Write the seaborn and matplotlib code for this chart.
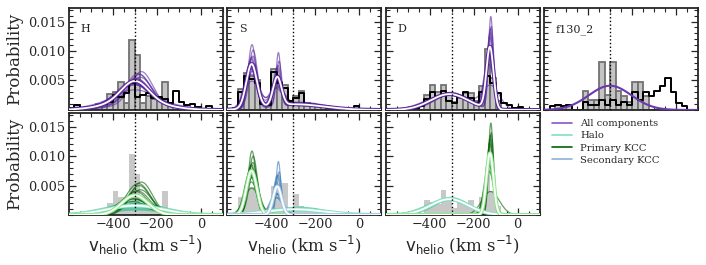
import numpy as np
import pandas as pd
import matplotlib
matplotlib.use('Agg')
import matplotlib.pyplot as plt
import matplotlib.patheffects as pe
from matplotlib.ticker import FixedLocator, MultipleLocator
from matplotlib.lines import Line2D
import seaborn as sns

# velocity bins (km/s) shared by every histogram
bin_width = 25
bin_range = (-600, 100)
bin_centers = np.arange(-600, 100, bin_width) + bin_width / 2
v_sys = -300

fields = ['H', 'S', 'D', 'f130_2']

# top row: grey (with edges) and black step histograms
H_gray = [0, 0.0008, 0, 0.0005, 0.0005, 0.001, 0.0012, 0.0027, 0.003, 0.0047, 0.0012, 0.0118, 0.0094, 0.0012,
          0.0024, 0.0018, 0.0018, 0.0047, 0.0012, 0, 0, 0, 0, 0, 0, 0, 0, 0]
H_black = [0.0003, 0.0008, 0.0003, 0.0005, 0.0005, 0.0008, 0.001, 0.0014, 0.0025, 0.0022, 0.0028, 0.0045, 0.0022,
           0.0026, 0.0028, 0.002, 0.0022, 0.0018, 0.0012, 0.0032, 0.0014, 0.0008, 0.001, 0.0005, 0, 0.0006, 0, 0]
S_gray = [0, 0.0003, 0.0035, 0.0062, 0.0058, 0.005, 0.0012, 0.0008, 0.007, 0.0048, 0.0042, 0.0015, 0.0024, 0.0032,
          0.0012, 0.001, 0.0008, 0.0005, 0.0004, 0, 0, 0, 0, 0, 0, 0, 0, 0]
S_black = [0, 0.0003, 0.003, 0.0058, 0.0052, 0.0046, 0.001, 0.0008, 0.0064, 0.0045, 0.0038, 0.0015, 0.002, 0.0028,
           0.001, 0.0008, 0.0006, 0.0005, 0.0003, 0, 0, 0, 0, 0.0006, 0, 0, 0, 0]
D_gray = [0, 0, 0, 0, 0, 0, 0, 0.0026, 0.0043, 0.003, 0.0042, 0.0028, 0.0014, 0.002, 0.0028, 0.0028, 0.0015,
          0.004, 0.0103, 0.0055, 0.0015, 0, 0, 0, 0, 0, 0, 0]
D_black = [0, 0, 0, 0, 0, 0.0003, 0.0006, 0.0018, 0.003, 0.0022, 0.0033, 0.0015, 0.0012, 0.0022, 0.003, 0.002,
           0.0012, 0.003, 0.0057, 0.0045, 0.0028, 0.0012, 0.0008, 0.0003, 0.0005, 0, 0, 0]
F_gray = [0, 0, 0.0008, 0, 0.0008, 0, 0, 0.0032, 0.0017, 0.0017, 0.0081, 0.0025, 0.0081, 0.0032, 0.0023, 0.0014,
          0.0047, 0.0047, 0.0023, 0, 0, 0, 0, 0, 0, 0, 0, 0]
F_black = [0, 0.0006, 0.0008, 0.0006, 0.0008, 0, 0, 0.0014, 0.0008, 0.0008, 0.0017, 0.0008, 0.0017, 0.0008, 0.0014,
           0.0008, 0.003, 0.0017, 0.003, 0.0023, 0.0032, 0.004, 0.0054, 0.003, 0.0011, 0.0006, 0, 0]

# bottom row: light grey histograms
H_low = [0, 0.0005, 0, 0.0004, 0, 0, 0, 0.002, 0.0041, 0.003, 0.0012, 0.0104, 0.0069, 0.0012, 0.002, 0.0015, 0.0015,
         0.0041, 0.001, 0, 0, 0, 0, 0, 0, 0, 0, 0]
S_low = [0, 0, 0.003, 0.005, 0.0048, 0.0042, 0.0008, 0.0006, 0.005, 0.0042, 0.0055, 0.0012, 0.0036, 0.0015, 0.001,
         0.0008, 0.0006, 0.0004, 0.0003, 0, 0, 0, 0, 0, 0, 0, 0, 0]
D_low = [0, 0, 0, 0, 0, 0, 0, 0.0025, 0.0022, 0.0018, 0.0043, 0.0025, 0.0012, 0.0025, 0.0018, 0.0025, 0.0008, 0.003,
         0.0081, 0.004, 0.0015, 0, 0, 0, 0, 0, 0, 0]

# gaussian mixture fits: best fit (mu, sigma, fraction) and posterior draws
H_halo_best = (-300, 125, 0.5)
H_prim_best = (-300, 60, 0.5)
H_halo_mu = [-300, -290, -310, -295, -305, -285, -300, -315, -280, -300, -295, -305, -298, -292]
H_halo_sig = [125, 130, 120, 140, 115, 135, 110, 125, 130, 145, 120, 128, 122, 132]
H_halo_frac = [0.5, 0.45, 0.55, 0.4, 0.6, 0.35, 0.65, 0.5, 0.3, 0.7, 0.25, 0.55, 0.48, 0.42]
H_prim_mu = [-300, -295, -305, -290, -310, -280, -300, -315, -270, -300, -285, -305, -296, -275]
H_prim_sig = [60, 55, 65, 58, 70, 52, 75, 62, 50, 80, 56, 66, 61, 54]

S_halo_best = (-293, 132, 0.32)
S_prim_best = (-490, 24, 0.45)
S_sec_best = (-373, 19, 0.23)
S_prim_mu = [-490, -485, -495, -488, -492, -480, -498, -490, -486, -494, -483, -491, -489, -493]
S_prim_sig = [24, 21, 26, 18, 28, 22, 25, 19, 30, 23, 20, 27, 35, 22]
S_prim_frac = [0.45, 0.47, 0.43, 0.49, 0.5, 0.42, 0.46, 0.41, 0.48, 0.45, 0.5, 0.38, 0.4, 0.46]
S_sec_mu = [-373, -370, -376, -368, -378, -372, -375, -365, -380, -371, -374, -369, -372, -377]
S_sec_sig = [19, 14, 24, 11, 28, 16, 21, 12, 26, 18, 15, 22, 30, 17]
S_sec_frac = [0.23, 0.24, 0.22, 0.25, 0.21, 0.2, 0.26, 0.22, 0.24, 0.23, 0.25, 0.2, 0.22, 0.24]
S_halo_mu = [-290, -280, -300, -285, -295, -270, -310, -290, -280, -300, -275, -295, -288, -302]
S_halo_sig = [130, 120, 140, 125, 135, 115, 145, 130, 120, 140, 125, 135, 128, 138]

D_halo_best = (-310, 86, 0.58)
D_prim_best = (-126, 16, 0.42)
D_prim_mu = [-126, -124, -128, -122, -130, -125, -127, -120, -132, -126, -123, -129, -125, -127]
D_prim_sig = [16, 13, 19, 11, 22, 14, 17, 12, 20, 15, 40, 18, 16, 14]
D_prim_frac = [0.42, 0.44, 0.4, 0.43, 0.41, 0.45, 0.39, 0.42, 0.44, 0.4, 0.4, 0.43, 0.41, 0.43]
D_halo_mu = [-310, -300, -320, -305, -315, -295, -325, -310, -300, -320, -305, -315, -312, -308]
D_halo_sig = [86, 80, 92, 84, 90, 78, 95, 82, 88, 85, 80, 90, 87, 83]

F_single = (-300, 97, 1.0)

PURPLE = '#5a2a9c'
HALO = '#45c298'
PRIM = '#066006'
SEC = '#3a78b0'

vgrid = np.linspace(-600, 100, 701)


def gauss(mu, sig, frac):
    return frac * np.exp(-0.5 * ((vgrid - mu) / sig) ** 2) / (sig * np.sqrt(2 * np.pi))


def draw_line(ax, y, color, lw=0.9, alpha=0.6, z=2):
    sns.lineplot(x=vgrid, y=y, ax=ax, color=color, lw=lw, alpha=alpha, estimator=None,
                 sort=False, legend=False, zorder=z)


def draw_best(ax, y, color, z=3):
    sns.lineplot(x=vgrid, y=y, ax=ax, color='white', lw=1.3, estimator=None, sort=False,
                 legend=False, zorder=z,
                 path_effects=[pe.Stroke(linewidth=2.8, foreground=color), pe.Normal()])


def hist_df(vals):
    return pd.DataFrame({'v': bin_centers, 'w': np.asarray(vals, dtype=float)})


def hist_top(ax, gray, black):
    sns.histplot(data=hist_df(gray), x='v', weights='w', binwidth=bin_width, binrange=bin_range,
                 ax=ax, element='bars', color='#c4c4c4', edgecolor='#727272', linewidth=1.3,
                 alpha=1, zorder=1)
    sns.histplot(data=hist_df(black), x='v', weights='w', binwidth=bin_width, binrange=bin_range,
                 ax=ax, element='step', fill=False, color='black', linewidth=1.4, zorder=2.5)


def hist_low(ax, vals):
    sns.histplot(data=hist_df(vals), x='v', weights='w', binwidth=bin_width, binrange=bin_range,
                 ax=ax, element='bars', color='#c8c8c8', linewidth=0, alpha=1, zorder=1)


sns.set_style('ticks')
plt.rcParams['font.family'] = ['DejaVu Serif']
plt.rcParams['mathtext.fontset'] = 'dejavusans'

fig, axes = plt.subplots(2, 4, figsize=(7.06, 2.65), dpi=100)
fig.subplots_adjust(left=69 / 706, right=698 / 706, top=1 - 8 / 265, bottom=1 - 215 / 265,
                    wspace=0.03, hspace=0.03)

# ---- top row: full mixture ----
ax = axes[0, 0]
hist_top(ax, H_gray, H_black)
for i in range(len(H_halo_mu)):
    y = gauss(H_halo_mu[i], H_halo_sig[i], H_halo_frac[i]) + \
        gauss(H_prim_mu[i], H_prim_sig[i], 1 - H_halo_frac[i])
    draw_line(ax, y, PURPLE)
draw_best(ax, gauss(*H_halo_best) + gauss(*H_prim_best), PURPLE)

ax = axes[0, 1]
hist_top(ax, S_gray, S_black)
for i in range(len(S_prim_mu)):
    hf = 1 - S_prim_frac[i] - S_sec_frac[i]
    y = gauss(S_prim_mu[i], S_prim_sig[i], S_prim_frac[i]) + \
        gauss(S_sec_mu[i], S_sec_sig[i], S_sec_frac[i]) + gauss(S_halo_mu[i], S_halo_sig[i], hf)
    draw_line(ax, y, PURPLE)
draw_best(ax, gauss(*S_halo_best) + gauss(*S_prim_best) + gauss(*S_sec_best), PURPLE)

ax = axes[0, 2]
hist_top(ax, D_gray, D_black)
for i in range(len(D_prim_mu)):
    y = gauss(D_prim_mu[i], D_prim_sig[i], D_prim_frac[i]) + \
        gauss(D_halo_mu[i], D_halo_sig[i], 1 - D_prim_frac[i])
    draw_line(ax, y, PURPLE)
draw_best(ax, gauss(*D_halo_best) + gauss(*D_prim_best), PURPLE)

ax = axes[0, 3]
hist_top(ax, F_gray, F_black)
draw_line(ax, gauss(*F_single), '#6a3aae', lw=1.5, alpha=1, z=3)

# ---- bottom row: individual components ----
ax = axes[1, 0]
hist_low(ax, H_low)
for i in range(len(H_halo_mu)):
    draw_line(ax, gauss(H_halo_mu[i], H_halo_sig[i], H_halo_frac[i]), HALO)
for i in range(len(H_halo_mu)):
    draw_line(ax, gauss(H_prim_mu[i], H_prim_sig[i], 1 - H_halo_frac[i]), PRIM)
draw_best(ax, gauss(*H_halo_best), '#8be3c6')
draw_best(ax, gauss(*H_prim_best), '#8fe88f')

ax = axes[1, 1]
hist_low(ax, S_low)
for i in range(len(S_prim_mu)):
    hf = 1 - S_prim_frac[i] - S_sec_frac[i]
    draw_line(ax, gauss(S_halo_mu[i], S_halo_sig[i], hf), HALO)
for i in range(len(S_prim_mu)):
    draw_line(ax, gauss(S_prim_mu[i], S_prim_sig[i], S_prim_frac[i]), PRIM)
    draw_line(ax, gauss(S_sec_mu[i], S_sec_sig[i], S_sec_frac[i]), SEC)
draw_best(ax, gauss(*S_halo_best), '#8be3c6')
draw_best(ax, gauss(*S_prim_best), '#8fe88f')
draw_best(ax, gauss(*S_sec_best), '#a9cbe8')

ax = axes[1, 2]
hist_low(ax, D_low)
for i in range(len(D_prim_mu)):
    draw_line(ax, gauss(D_halo_mu[i], D_halo_sig[i], 1 - D_prim_frac[i]), HALO)
for i in range(len(D_prim_mu)):
    draw_line(ax, gauss(D_prim_mu[i], D_prim_sig[i], D_prim_frac[i]), PRIM)
draw_best(ax, gauss(*D_halo_best), '#8be3c6')
draw_best(ax, gauss(*D_prim_best), '#8fe88f')

# ---- axes cosmetics ----
for r in range(2):
    for c in range(4):
        ax = axes[r, c]
        if r == 1 and c == 3:
            continue
        ax.axvline(v_sys, color='black', ls=':', lw=1, zorder=4)
        ax.set_xlim(-600, 100)
        ax.set_ylim(0, 0.0173)
        ax.xaxis.set_major_locator(FixedLocator([-400, -200, 0]))
        ax.xaxis.set_minor_locator(MultipleLocator(50))
        ax.yaxis.set_major_locator(FixedLocator([0.005, 0.010, 0.015]))
        ax.yaxis.set_minor_locator(MultipleLocator(0.001))
        ax.tick_params(which='both', direction='in', top=True, right=True, labelsize=9.3, pad=2.5)
        ax.tick_params(which='major', length=5, width=0.9)
        ax.tick_params(which='minor', length=2.8, width=0.8)
        for s in ax.spines.values():
            s.set_linewidth(1.3)
        ax.set_ylabel('')
        ax.set_xlabel('')
        if c > 0:
            ax.tick_params(labelleft=False)
        if r == 0:
            ax.tick_params(labelbottom=False)
        else:
            ax.set_xlabel(r'$\mathsf{v_{helio}}$ (km s$^{-1}$)', fontsize=12, labelpad=2)
        ax.yaxis.set_major_formatter(plt.FuncFormatter(lambda v, p: f'{v:.3f}'))

for c, name in enumerate(fields):
    axes[0, c].text(0.075, 0.79, name, transform=axes[0, c].transAxes, fontsize=8,
                    va='center', ha='left')

axes[0, 0].set_ylabel('Probability', fontsize=12)
axes[1, 0].set_ylabel('Probability', fontsize=12)

axes[1, 3].axis('off')
handles = [Line2D([], [], color='#8856c4', lw=1.2),
           Line2D([], [], color='#7fe0c0', lw=1.2),
           Line2D([], [], color='darkgreen', lw=1.2),
           Line2D([], [], color='#8fb3d6', lw=1.2)]
labels = ['All components', 'Halo', 'Primary KCC', 'Secondary KCC']
axes[1, 3].legend(handles, labels, loc='upper left', bbox_to_anchor=(0.04, 0.96), frameon=False,
                  fontsize=7.2, handlelength=2.0, handletextpad=0.8, labelspacing=0.32,
                  borderaxespad=0, borderpad=0.2)

fig.savefig('out.png', dpi=100)
plt.close(fig)
